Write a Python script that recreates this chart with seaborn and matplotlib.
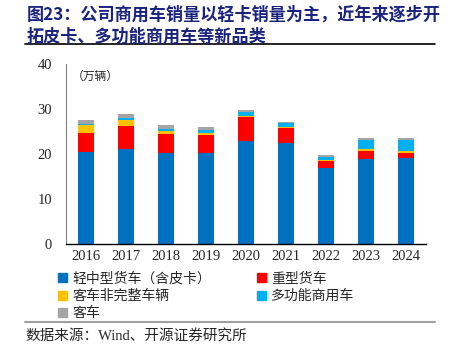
"""图23：公司商用车销量以轻卡销量为主"""
import matplotlib
matplotlib.use("Agg")
import matplotlib.pyplot as plt
import matplotlib.lines as mlines
import matplotlib.patches as mpatches
import numpy as np
import pandas as pd
import seaborn as sns

years = ["2016", "2017", "2018", "2019", "2020", "2021", "2022", "2023", "2024"]
light_trucks = [20.4, 21.0, 20.3, 20.3, 22.8, 22.4, 16.8, 18.8, 19.0]
heavy_trucks = [4.3, 5.3, 4.1, 3.8, 5.3, 3.4, 1.6, 1.9, 1.3]
bus_incomplete = [1.7, 1.3, 0.7, 0.6, 0.4, 0.2, 0.2, 0.4, 0.3]
multi_purpose = [0.2, 0.4, 0.5, 0.6, 0.7, 0.8, 0.8, 1.9, 2.4]
buses = [1.0, 0.9, 0.9, 0.6, 0.6, 0.4, 0.4, 0.5, 0.6]

series = ["轻中型货车（含皮卡）", "重型货车", "客车非完整车辆", "多功能商用车", "客车"]
colors = ["#0070C0", "#FF0000", "#FFC000", "#00B0F0", "#A5A5A5"]

df = pd.DataFrame({
    "year": years,
    series[0]: light_trucks,
    series[1]: heavy_trucks,
    series[2]: bus_incomplete,
    series[3]: multi_purpose,
    series[4]: buses,
})
cum = df[series].cumsum(axis=1)

sns.set_style("white")
plt.rcParams["font.family"] = ["Noto Sans CJK SC", "DejaVu Sans"]

fig = plt.figure(figsize=(4.52, 3.51), dpi=100)
ax = fig.add_axes([0.146, 0.305, 0.796, 0.513])

# stacked bars: draw the running totals from the top layer down
for name, color in reversed(list(zip(series, colors))):
    sns.barplot(x=df["year"], y=cum[name], color=color, width=0.4,
                saturation=1, linewidth=0, ax=ax)

ax.set_ylim(0, 40)
ax.set_xlim(-0.5, 8.5)
ax.set_yticks([0, 10, 20, 30, 40])
ax.set_xlabel("")
ax.set_ylabel("")
for lab in ax.get_xticklabels() + ax.get_yticklabels():
    lab.set_family(["Liberation Serif"])
    lab.set_fontsize(10.5)
ax.tick_params(axis="x", length=0, pad=4)
ax.tick_params(axis="y", direction="in", length=4, color="#808080", pad=10)
ax.set_xticks(np.arange(0.5, 9.0, 1.0), minor=True)
ax.tick_params(axis="x", which="minor", direction="in", length=4, color="#808080")
sns.despine(ax=ax)
ax.spines["left"].set_color("#808080")
ax.spines["bottom"].set_color("black")
ax.spines["bottom"].set_linewidth(1.0)

ax.text(0.015, 0.93, "（万辆）", transform=ax.transAxes, fontsize=8.5, va="center")

# title and rules
fig.text(27 / 452, 1 - 15 / 351, "图23：公司商用车销量以轻卡销量为主，近年来逐步开",
         fontsize=12.3, fontweight="bold", color="#1A237E", va="center")
fig.text(27 / 452, 1 - 37 / 351, "拓皮卡、多功能商用车等新品类",
         fontsize=12.3, fontweight="bold", color="#1A237E", va="center")
fig.add_artist(mlines.Line2D([25 / 452, 435 / 452], [1 - 44 / 351] * 2,
                             color="black", lw=1.2))
fig.add_artist(mlines.Line2D([25 / 452, 435 / 452], [1 - 322 / 351] * 2,
                             color="#A0A0A0", lw=1.5))

order = [0, 2, 4, 1, 3]
handles = [mpatches.Patch(color=colors[i], label=series[i]) for i in order]
fig.legend(handles=handles, ncol=2, loc="upper left",
           bbox_to_anchor=(52 / 452, 1 - 266 / 351), frameon=False,
           fontsize=10, handlelength=0.65, handleheight=0.65, handletextpad=0.4,
           labelspacing=0.25, columnspacing=3.3, borderaxespad=0)

fig.text(25 / 452, 1 - 336 / 351, "数据来源：Wind、开源证券研究所",
         fontsize=10.5, va="center", family=["Liberation Serif", "Noto Sans CJK SC"])

fig.savefig("out.png", dpi=100)
